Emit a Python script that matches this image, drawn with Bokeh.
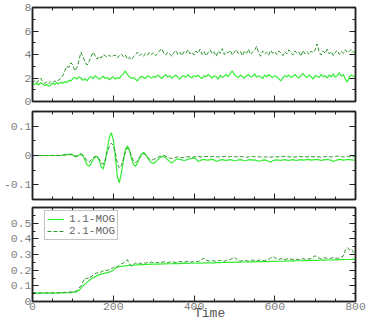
import numpy as np
from bokeh.plotting import figure
from bokeh.layouts import column
from bokeh.models import (FixedTicker, LinearAxis, Range1d, Legend, LegendItem,
                          CustomLabelingPolicy, Grid)
from bokeh.embed import file_html
from bokeh.resources import INLINE

# ---------------- data ----------------
time = list(range(0, 801, 5))

top_mog11 = (
    [1.50, 1.45, 1.55, 1.40, 1.60, 1.50, 1.35, 1.45, 1.30, 1.40, 1.55, 1.45, 1.60, 1.50, 1.65, 1.55, 1.70, 1.60, 1.80, 1.75, 1.95]
    + [2.05, 1.90, 2.10, 2.00, 1.80, 1.95, 1.75, 2.00, 2.10, 1.95, 2.20, 2.05, 1.90, 2.00, 2.15, 1.95, 2.05, 1.85, 2.00, 2.10]
    + [1.90, 2.05, 1.95, 2.20, 2.35, 2.60, 2.30, 2.10, 1.95, 2.05, 1.90, 1.75, 2.00, 2.15, 2.05, 1.95, 2.20, 2.10, 2.00, 2.15]
    + [2.05, 2.25, 2.10, 1.95, 2.15, 2.30, 2.05, 2.20, 2.00, 2.10, 2.25, 2.05, 1.90, 2.15, 2.20, 2.05, 2.30, 2.10, 2.00, 2.20]
    + [2.10, 2.25, 2.05, 1.95, 2.20, 2.10, 2.30, 2.15, 2.00, 2.20, 2.10, 1.90, 2.25, 2.05, 2.15, 2.30, 2.10, 2.40, 2.60, 2.30]
    + [2.15, 2.05, 2.25, 2.10, 2.00, 2.20, 2.30, 2.10, 2.15, 2.35, 2.05, 2.20, 2.10, 1.95, 2.25, 2.10, 2.30, 2.15, 2.05, 2.20]
    + [2.10, 1.95, 1.75, 2.00, 2.20, 2.10, 2.25, 2.05, 2.15, 2.30, 2.10, 2.00, 2.20, 2.40, 2.15, 2.05, 2.25, 2.10, 1.90, 2.20]
    + [2.15, 2.05, 2.30, 2.10, 2.20, 2.00, 2.25, 2.10, 2.35, 2.05, 2.20, 2.45, 2.15, 2.30, 1.90, 1.65, 2.10, 2.25, 2.15, 2.10]
)
top_mog21 = (
    [1.60, 1.75, 1.55, 1.80, 2.00, 1.70, 1.55, 1.65, 1.50, 1.70, 1.60, 1.75, 1.65, 1.85, 1.95, 2.20, 2.60, 3.00, 2.90, 3.30, 3.10]
    + [2.60, 2.90, 3.50, 4.20, 3.80, 3.40, 3.10, 3.40, 3.80, 4.20, 3.90, 3.60, 3.85, 3.70, 4.00, 3.90, 3.75, 3.95, 3.80, 3.90]
    + [3.95, 3.70, 3.90, 4.05, 3.80, 3.95, 3.60, 3.75, 3.55, 3.80, 4.00, 4.20, 3.90, 4.05, 3.85, 4.10, 3.95, 4.20, 4.00, 4.15]
    + [3.90, 4.10, 4.30, 4.50, 4.10, 3.95, 4.20, 4.05, 3.85, 4.15, 4.35, 4.00, 4.20, 3.90, 4.25, 4.10, 4.40, 4.05, 4.20, 3.95]
    + [4.30, 4.10, 4.45, 4.00, 4.25, 3.90, 4.15, 4.40, 4.05, 4.20, 3.85, 4.30, 4.10, 4.50, 4.00, 4.25, 4.15, 4.35, 3.95, 4.20]
    + [4.40, 4.05, 4.25, 3.90, 4.30, 4.10, 4.45, 4.00, 4.20, 4.35, 4.70, 4.15, 3.85, 4.30, 4.05, 4.20, 3.95, 4.35, 4.10, 4.25]
    + [4.00, 4.30, 4.15, 3.90, 4.25, 4.05, 4.40, 4.15, 3.95, 4.30, 4.10, 4.20, 3.85, 4.35, 4.05, 4.25, 4.00, 4.30, 4.15, 4.40]
    + [4.90, 4.20, 3.95, 4.30, 4.10, 4.45, 4.05, 4.25, 3.90, 4.20, 4.35, 4.00, 4.25, 4.10, 4.40, 4.15, 4.30, 4.45, 4.20, 4.10]
)
mid_mog11 = (
    [0, 0, 0, 0, 0, 0, 0, 0, 0, 0, 0, 0, 0, 0, 0, 0.001, 0.002, 0.003, 0.004, 0.005, 0.002]
    + [-0.004, -0.003, 0.002, 0.006, 0.000, -0.015, -0.032, -0.037, -0.028, -0.015, -0.006, -0.003, -0.015, -0.038, -0.046, -0.020, 0.020, 0.060, 0.078, 0.055]
    + [0.000, -0.070, -0.093, -0.060, -0.020, 0.020, 0.032, 0.020, -0.010, -0.030, -0.037, -0.025, -0.010, 0.005, 0.010, 0.005, -0.008, -0.018, -0.025, -0.027]
    + [-0.022, -0.015, -0.008, -0.004, -0.004, -0.008, -0.015, -0.022, -0.025, -0.020, -0.014, -0.012, -0.013, -0.015, -0.017, -0.016, -0.013, -0.011, -0.010, -0.008]
    + [-0.012, -0.020, -0.018, -0.014, -0.013, -0.015, -0.016, -0.014, -0.013, -0.015, -0.020, -0.018, -0.015, -0.014, -0.016, -0.017, -0.015, -0.014, -0.016, -0.018]
    + [-0.017, -0.015, -0.014, -0.016, -0.018, -0.017, -0.015, -0.014, -0.016, -0.015, -0.017, -0.019, -0.018, -0.016, -0.015, -0.017, -0.020, -0.022, -0.018, -0.016]
    + [-0.015, -0.016, -0.017, -0.015, -0.014, -0.016, -0.017, -0.015, -0.014, -0.016, -0.017, -0.015, -0.014, -0.016, -0.015, -0.013, -0.014, -0.016, -0.015, -0.014]
    + [-0.013, -0.015, -0.017, -0.015, -0.014, -0.013, -0.015, -0.016, -0.020, -0.018, -0.015, -0.013, -0.014, -0.016, -0.015, -0.013, -0.014, -0.015, -0.016, -0.015]
)
mid_mog21 = (
    [0, 0, 0, 0, 0, 0, 0, 0, 0, 0, 0, 0, 0, 0, 0, 0.001, 0.002, 0.002, 0.003, 0.003, 0.002]
    + [-0.002, -0.002, 0.001, 0.003, 0.000, -0.008, -0.018, -0.022, -0.016, -0.008, -0.003, -0.004, -0.012, -0.025, -0.030, -0.015, 0.010, 0.030, 0.042, 0.035]
    + [0.010, -0.025, -0.043, -0.035, -0.012, 0.012, 0.025, 0.018, -0.002, -0.018, -0.025, -0.018, -0.006, 0.003, 0.006, 0.002, -0.006, -0.012, -0.015, -0.014]
    + [-0.010, -0.006, -0.003, -0.001, 0.000, -0.002, -0.006, -0.009, -0.010, -0.008, -0.006, -0.005, -0.006, -0.007, -0.006, -0.005, -0.004, -0.005, -0.006, -0.005]
    + [-0.004, -0.003, -0.004, -0.005, -0.004, -0.003, -0.004, -0.005, -0.004, -0.003, -0.004, -0.005, -0.004, -0.004, -0.003, -0.004, -0.005, -0.004, -0.003, -0.004]
    + [-0.005, -0.004, -0.003, -0.004, -0.005, -0.006, -0.005, -0.004, -0.003, -0.004, -0.005, -0.004, -0.005, -0.006, -0.005, -0.004, -0.005, -0.006, -0.005, -0.004]
    + [-0.004, -0.005, -0.004, -0.003, -0.004, -0.005, -0.004, -0.005, -0.006, -0.005, -0.004, -0.003, -0.004, -0.005, -0.004, -0.005, -0.004, -0.003, -0.004, -0.005]
    + [-0.004, -0.005, -0.006, -0.005, -0.004, -0.003, -0.004, -0.005, -0.004, -0.003, -0.002, -0.003, -0.004, -0.005, -0.004, -0.003, -0.004, -0.005, -0.004, -0.004]
)
bot_mog11 = (
    [0.055, 0.055, 0.054, 0.054, 0.054, 0.054, 0.054, 0.054, 0.054, 0.054, 0.054, 0.054, 0.054, 0.055, 0.055, 0.055, 0.055, 0.056, 0.056, 0.057, 0.058]
    + [0.060, 0.062, 0.070, 0.085, 0.100, 0.112, 0.122, 0.133, 0.143, 0.150, 0.158, 0.165, 0.170, 0.175, 0.178, 0.181, 0.184, 0.187, 0.192, 0.200]
    + [0.212, 0.219, 0.222, 0.224, 0.226, 0.228, 0.229, 0.230, 0.231, 0.232, 0.233, 0.234, 0.235, 0.235, 0.236, 0.236, 0.237, 0.237, 0.238, 0.238]
    + [0.239, 0.239, 0.239, 0.240, 0.240, 0.240, 0.241, 0.241, 0.241, 0.242, 0.242, 0.242, 0.242, 0.243, 0.243, 0.243, 0.243, 0.244, 0.244, 0.244]
    + [0.244, 0.245, 0.245, 0.245, 0.246, 0.246, 0.246, 0.247, 0.247, 0.247, 0.248, 0.248, 0.248, 0.249, 0.249, 0.249, 0.250, 0.250, 0.250, 0.250]
    + [0.251, 0.251, 0.251, 0.252, 0.252, 0.252, 0.253, 0.253, 0.253, 0.253, 0.254, 0.254, 0.254, 0.255, 0.255, 0.255, 0.255, 0.256, 0.256, 0.256]
    + [0.256, 0.257, 0.257, 0.257, 0.258, 0.258, 0.258, 0.259, 0.259, 0.259, 0.260, 0.260, 0.260, 0.261, 0.261, 0.261, 0.262, 0.262, 0.262, 0.263]
    + [0.263, 0.263, 0.264, 0.264, 0.264, 0.265, 0.265, 0.265, 0.266, 0.266, 0.266, 0.267, 0.267, 0.267, 0.268, 0.268, 0.268, 0.269, 0.269, 0.270]
)
bot_mog21 = (
    [0.055, 0.055, 0.055, 0.055, 0.055, 0.055, 0.055, 0.055, 0.055, 0.055, 0.055, 0.056, 0.056, 0.056, 0.057, 0.057, 0.058, 0.059, 0.060, 0.061, 0.062]
    + [0.064, 0.070, 0.085, 0.100, 0.125, 0.150, 0.145, 0.160, 0.155, 0.170, 0.178, 0.183, 0.180, 0.190, 0.195, 0.200, 0.198, 0.205, 0.210, 0.215]
    + [0.225, 0.220, 0.232, 0.240, 0.246, 0.255, 0.267, 0.240, 0.225, 0.236, 0.246, 0.240, 0.245, 0.242, 0.248, 0.244, 0.250, 0.246, 0.252, 0.248]
    + [0.250, 0.247, 0.252, 0.249, 0.254, 0.250, 0.248, 0.252, 0.255, 0.251, 0.249, 0.253, 0.256, 0.252, 0.250, 0.254, 0.257, 0.253, 0.251, 0.255]
    + [0.258, 0.254, 0.262, 0.270, 0.277, 0.265, 0.260, 0.257, 0.262, 0.258, 0.256, 0.260, 0.263, 0.259, 0.257, 0.261, 0.264, 0.268, 0.275, 0.283]
    + [0.270, 0.262, 0.258, 0.261, 0.264, 0.260, 0.258, 0.262, 0.265, 0.261, 0.259, 0.263, 0.266, 0.262, 0.260, 0.264, 0.270, 0.278, 0.287, 0.280]
    + [0.272, 0.268, 0.274, 0.270, 0.267, 0.271, 0.275, 0.270, 0.268, 0.272, 0.269, 0.267, 0.271, 0.274, 0.270, 0.268, 0.272, 0.276, 0.283, 0.292]
    + [0.285, 0.276, 0.272, 0.275, 0.279, 0.276, 0.273, 0.277, 0.280, 0.277, 0.275, 0.279, 0.284, 0.290, 0.330, 0.344, 0.330, 0.335, 0.315, 0.300]
)

x_major = [0, 200, 400, 600, 800]
x_minor = [50, 100, 150, 250, 300, 350, 450, 500, 550, 650, 700, 750]
top_major = [0, 2, 4, 6, 8]
top_minor = [1, 3, 5, 7]
mid_major = [-0.1, 0, 0.1]
mid_minor = [-0.15, -0.05, 0.05, 0.15]
bot_major = [0, 0.1, 0.2, 0.3, 0.4, 0.5]
bot_minor = [0.05, 0.15, 0.25, 0.35, 0.45, 0.55]
mid_labels = {-0.1: "-0.1", 0: "0", 0.1: "0.1"}
series_labels = ["1.1-MOG", "2.1-MOG"]
x_title = "Time"

# ---------------- styling ----------------
FONT = "Liberation Mono"
C_SOLID = "#33ee33"
C_DASH = "#2e962e"
FRAME = "#222222"
TICKCOL = "#808080"
W = 366
TICK_FS = "11.5px"


def tick_axis(ticker, labels=True, overrides=None):
    ax = LinearAxis(ticker=ticker, axis_line_color=FRAME, axis_line_width=1.5,
                    major_tick_in=6, major_tick_out=0, minor_tick_in=3, minor_tick_out=0,
                    major_tick_line_color=FRAME, minor_tick_line_color=FRAME,
                    major_label_text_font=FONT, major_label_text_color=TICKCOL,
                    major_label_text_font_size=TICK_FS if labels else "1px",
                    major_label_standoff=0)
    if not labels:
        ax.major_label_policy = CustomLabelingPolicy(code="return []")
    if overrides:
        ax.major_label_overrides = overrides
    return ax


def panel(height, ylo, yhi, ymaj, ymin, btop, bbot, bottom_labels=False, overrides=None):
    p = figure(width=W, height=height, x_range=Range1d(0, 800), y_range=Range1d(ylo, yhi),
               x_axis_location=None, y_axis_location=None,
               output_backend="svg", toolbar_location=None,
               min_border_left=32, min_border_right=11,
               min_border_top=btop, min_border_bottom=bbot)
    p.center = [c for c in p.center if not isinstance(c, Grid)]
    p.outline_line_color = FRAME
    p.outline_line_width = 1.5
    p.background_fill_color = "white"
    p.border_fill_color = "white"
    xt = FixedTicker(ticks=x_major, minor_ticks=x_minor)
    yt = FixedTicker(ticks=ymaj, minor_ticks=ymin)
    bottom = tick_axis(xt, labels=bottom_labels)
    if bottom_labels:
        bottom.major_label_standoff = 1
        # non-breaking spaces push the centred title to start under the 400 tick
        bottom.axis_label = "\u00a0\u00a0\u00a0\u00a0" + x_title
        bottom.axis_label_text_font = FONT
        bottom.axis_label_text_font_style = "normal"
        bottom.axis_label_text_font_size = "13px"
        bottom.axis_label_text_color = "#555555"
        bottom.axis_label_standoff = -7
    p.add_layout(bottom, "below")
    p.add_layout(tick_axis(xt, labels=False), "above")
    left = tick_axis(yt, labels=True, overrides=overrides)
    left.major_label_standoff = 1
    p.add_layout(left, "left")
    p.add_layout(tick_axis(yt, labels=False), "right")
    return p


p1 = panel(107, 0, 8, top_major, top_minor, 7, 6)
p1.line(time, top_mog11, line_color=C_SOLID, line_width=1.2)
p1.line(time, top_mog21, line_color=C_DASH, line_width=1.0, line_dash="4 2")

p2 = panel(96, -0.15, 0.15, mid_major, mid_minor, 0, 1, overrides=mid_labels)
p2.line(time, mid_mog11, line_color=C_SOLID, line_width=1.2)
p2.line(time, mid_mog21, line_color=C_DASH, line_width=1.0, line_dash="4 2")

p3 = panel(120, 0, 0.6, bot_major, bot_minor, 1, 18, bottom_labels=True)
r1 = p3.line(time, bot_mog11, line_color=C_SOLID, line_width=1.2)
r2 = p3.line(time, bot_mog21, line_color=C_DASH, line_width=1.0, line_dash="4 2")

legend = Legend(items=[LegendItem(label=series_labels[0], renderers=[r1]),
                       LegendItem(label=series_labels[1], renderers=[r2])],
                location=(12, 61), border_line_color="#888888", border_line_width=1,
                background_fill_color="white", background_fill_alpha=1.0,
                label_text_font=FONT, label_text_font_size="11px", label_text_color="#666666",
                glyph_width=17, glyph_height=8, label_height=8, label_standoff=5,
                padding=2, spacing=0, margin=0)
p3.add_layout(legend)

layout = column(p1, p2, p3, spacing=0)
open("out.html", "w").write(file_html(layout, INLINE))
